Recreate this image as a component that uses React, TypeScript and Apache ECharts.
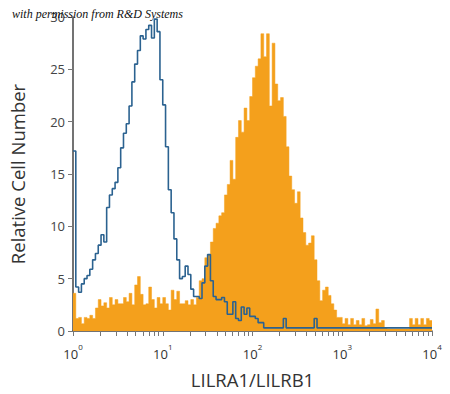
import React, { useEffect, useRef } from "react";
import * as echarts from "echarts";

// 128 channels, 32 per decade, from 10^0 to 10^4
const BINS_PER_DECADE = 32;
const decadeLabels = [0, 1, 2, 3, 4];
const yTicks = [0, 5, 10, 15, 20, 25, 30];

const isotypeCounts = [
  17.2, 4.2, 3.7, 4.5, 5.0, 5.3, 5.9, 6.8, 7.4, 8.2, 9.2, 8.5, 11.8, 13.0, 13.6, 14.2,
  15.6, 17.5, 18.9, 19.8, 21.5, 23.8, 25.5, 26.8, 28.2, 27.9, 28.8, 29.2, 28.0, 29.8, 28.6, 24.0,
  21.6, 17.6, 13.5, 11.3, 8.8, 6.8, 5.0, 5.2, 6.2, 5.4, 4.0, 3.3, 3.3, 3.1, 4.6, 6.2,
  7.3, 4.8, 3.3, 3.0, 3.0, 3.2, 2.8, 1.6, 1.6, 2.8, 1.2, 1.0, 2.3, 1.6, 2.2, 1.4,
  1.4, 1.2, 0.8, 0.8, 0.3, 0.3, 0.3, 0.3, 0.3, 0.3, 0.3, 1.2, 0.3, 0.3, 0.3, 0.3,
  0.3, 0.3, 0.3, 0.3, 0.3, 0.3, 1.2, 0.3, 0.3, 0.3, 0.3, 0.3, 0.3, 0.3, 0.3, 0.3,
  0.3, 0.3, 0.3, 0.3, 0.3, 0.3, 0.3, 0.3, 0.3, 0.3, 0.3, 0.3, 0.3, 0.3, 0.3, 0.3,
  0.3, 0.3, 0.3, 0.3, 0.3, 0.3, 0.3, 0.3, 0.3, 0.3, 0.3, 0.3, 0.3, 0.3, 0.3, 0.3,
];

const stainedCounts = [
  3.6, 1.2, 1.3, 0.7, 1.3, 1.2, 1.5, 1.2, 2.2, 3.0, 2.4, 2.7, 2.2, 3.2, 2.5, 3.0,
  2.6, 2.6, 3.2, 2.8, 3.6, 2.5, 4.4, 5.2, 3.5, 2.5, 2.6, 4.2, 3.0, 2.2, 3.2, 2.6,
  3.2, 2.6, 2.0, 3.9, 3.0, 3.8, 2.6, 2.6, 2.9, 2.5, 3.0, 2.5, 3.2, 4.8, 5.0, 7.0,
  7.3, 8.5, 9.8, 10.3, 11.0, 11.3, 13.0, 14.0, 16.3, 14.5, 18.5, 20.1, 19.0, 21.3, 20.1, 22.4,
  24.2, 25.3, 26.0, 28.4, 26.2, 28.4, 21.5, 27.5, 23.6, 22.0, 22.3, 20.5, 17.6, 14.8, 13.5, 12.2,
  13.3, 10.8, 9.4, 8.2, 8.4, 9.1, 6.8, 4.8, 2.9, 3.9, 4.2, 3.4, 2.6, 2.0, 1.3, 1.3,
  0.7, 1.2, 0.6, 1.2, 0.6, 1.0, 0.6, 1.2, 0.5, 0.6, 1.1, 0.7, 2.1, 0.8, 1.0, 0.3,
  0.2, 0.2, 0.2, 0.2, 0.2, 0.2, 0.2, 0.2, 1.2, 0.6, 1.2, 0.6, 1.2, 0.6, 1.2, 1.0,
];

const xName = "LILRA1/LILRB1";
const yName = "Relative Cell Number";
const credit = "with permission from R&D Systems";

const toSteps = (counts: number[]) => {
  const pts: [number, number][] = counts.map((c, i) => [Math.pow(10, i / BINS_PER_DECADE), c]);
  pts.push([Math.pow(10, counts.length / BINS_PER_DECADE), counts[counts.length - 1]]);
  return pts;
};

const minorTickValues: number[] = [];
for (let d = 0; d < 4; d++) {
  for (let k = 1; k <= 9; k++) minorTickValues.push(k * Math.pow(10, d));
}
minorTickValues.push(10000);

const FONT = "'Open Sans', 'Noto Sans', sans-serif";

export default function App() {
  const ref = useRef<HTMLDivElement>(null);
  useEffect(() => {
    if (!ref.current) return;
    const chart = echarts.init(ref.current, undefined, { renderer: "svg" });
    chart.setOption({
      animation: false,
      backgroundColor: "#ffffff",
      grid: { left: 70, right: 18, top: 17, bottom: 63 },
      graphic: [
        {
          type: "text",
          left: 12,
          top: 8,
          z: 100,
          style: {
            text: credit,
            fill: "#111",
            font: "italic 12px 'Liberation Serif', 'DejaVu Serif', serif",
          },
        },
      ],
      xAxis: {
        type: "log",
        logBase: 10,
        min: 1,
        max: 10000,
        name: xName,
        nameLocation: "middle",
        nameGap: 39,
        nameTextStyle: { fontFamily: FONT, fontSize: 18.5, color: "#333" },
        axisLine: { show: true, lineStyle: { color: "#444", width: 1.5 } },
        axisTick: {
          show: true,
          inside: false,
          length: 5,
          customValues: minorTickValues,
          lineStyle: { color: "#777", width: 1 },
        },
        axisLabel: {
          customValues: decadeLabels.map((d) => Math.pow(10, d)),
          margin: 11,
          formatter: (v: number) => `{b|10}{s|${Math.round(Math.log10(v))}}`,
          rich: {
            b: { fontFamily: FONT, fontSize: 13, color: "#333", lineHeight: 18, verticalAlign: "bottom" },
            s: { fontFamily: FONT, fontSize: 8, color: "#333", lineHeight: 18, verticalAlign: "top" },
          },
        },
        splitLine: { show: false },
      },
      yAxis: {
        type: "value",
        min: 0,
        max: 30,
        interval: 5,
        name: yName,
        nameLocation: "middle",
        nameGap: 46,
        nameTextStyle: { fontFamily: FONT, fontSize: 18.5, color: "#333" },
        axisLine: { show: true, lineStyle: { color: "#444", width: 1.5 } },
        axisTick: { show: true, inside: false, length: 5, lineStyle: { color: "#777" } },
        axisLabel: {
          margin: 8,
          fontFamily: FONT,
          fontSize: 13,
          color: "#444",
          customValues: yTicks,
        },
        splitLine: { show: false },
      },
      series: [
        {
          type: "line",
          name: "LILRA1/LILRB1",
          data: toSteps(stainedCounts),
          step: "end",
          symbol: "none",
          lineStyle: { width: 0.5, color: "#f4a01c" },
          areaStyle: { color: "#f4a01c", opacity: 1 },
          z: 2,
        },
        {
          type: "line",
          name: "Isotype",
          data: toSteps(isotypeCounts),
          step: "end",
          symbol: "none",
          lineStyle: { width: 1.6, color: "#2b6290" },
          z: 3,
        },
      ],
    });
    return () => chart.dispose();
  }, []);
  return (
    <div
      ref={ref}
      style={{ position: "fixed", left: 0, top: 0, width: 450, height: 394, background: "#fff" }}
    />
  );
}
